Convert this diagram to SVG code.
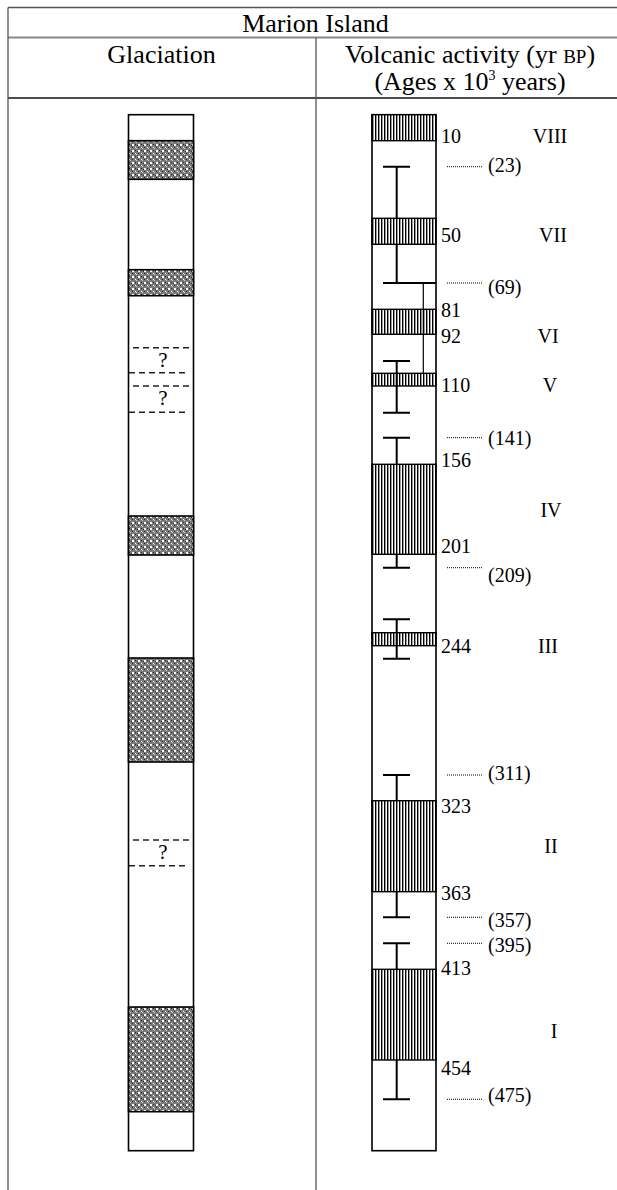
<svg xmlns="http://www.w3.org/2000/svg" width="617" height="1190" viewBox="0 0 617 1190">
<style>
text{font-family:"Liberation Serif","Times New Roman",serif;fill:#000}
.h{font-size:26px;text-anchor:middle}
.n{font-size:20px}
.r{font-size:20px;text-anchor:middle}
.q{font-size:21px;text-anchor:middle}
.tbl{stroke:#555;stroke-width:1.3;fill:none}
.box{fill:#fff;stroke:#000;stroke-width:1.6}
.ice{fill:url(#ice);stroke:#000;stroke-width:1.6}
.hat{fill:url(#hat);stroke:#000;stroke-width:1.4}
.eb{stroke:#000;stroke-width:2;fill:none}
.thin{stroke:#000;stroke-width:1.2;fill:none}
.dot{stroke:#000;stroke-width:1;stroke-dasharray:1 1;fill:none}
.dash{stroke:#222;stroke-width:1.6;stroke-dasharray:6 4;fill:none}
</style>
<defs>
<pattern id="ice" width="6" height="6" patternUnits="userSpaceOnUse">
<rect width="6" height="6" fill="#7a7a7a"/>
<rect x="0" y="0" width="2" height="2" fill="#fff"/>
<rect x="3" y="3" width="1" height="1" fill="#fff"/>
<rect x="3" y="0" width="1" height="1" fill="#222"/>
<rect x="0" y="3" width="1" height="1" fill="#222"/>
<rect x="4" y="4" width="1" height="1" fill="#ccc"/>
<rect x="5" y="1" width="1" height="1" fill="#333"/>
</pattern>
<pattern id="hat" width="3" height="10" patternUnits="userSpaceOnUse">
<rect width="3" height="10" fill="#fff"/>
<rect x="0" y="0" width="1.4" height="10" fill="#000"/>
</pattern>
</defs>
<g id="table">
<line class="tbl" x1="8" y1="7.5" x2="617" y2="7.5"/>
<line class="tbl" x1="8" y1="37.5" x2="617" y2="37.5" style="stroke:#888;stroke-width:2"/>
<line class="tbl" x1="8" y1="98" x2="617" y2="98" style="stroke:#111"/>
<line class="tbl" x1="8" y1="7.5" x2="8" y2="1190"/>
<line class="tbl" x1="316" y1="37.5" x2="316" y2="1190"/>
<text class="h" x="315.5" y="31.5">Marion Island</text>
<text class="h" x="161.5" y="63">Glaciation</text>
<text class="h" x="470" y="63">Volcanic activity (yr <tspan style="font-size:19px">BP</tspan>)</text>
<text class="h" x="470" y="90">(Ages x 10<tspan dy="-10" style="font-size:14px">3</tspan><tspan dy="10"> years)</tspan></text>
</g>
<g id="glaciation">
<rect class="box" x="128.5" y="114.7" width="65" height="1036"/>
<rect class="ice" x="128.5" y="140.7" width="65" height="38.6"/>
<rect class="ice" x="128.5" y="269.7" width="65" height="26"/>
<rect class="ice" x="128.5" y="516" width="65" height="39"/>
<rect class="ice" x="128.5" y="658" width="65" height="104"/>
<rect class="ice" x="128.5" y="1007" width="65" height="104.7"/>
<line class="dash" x1="133" y1="347.7" x2="193" y2="347.7"/>
<line class="dash" x1="129" y1="372.7" x2="189" y2="372.7"/>
<text class="q" x="163" y="366.5">?</text>
<line class="dash" x1="133" y1="386" x2="193" y2="386"/>
<line class="dash" x1="129" y1="412.3" x2="189" y2="412.3"/>
<text class="q" x="163" y="405">?</text>
<line class="dash" x1="133" y1="840" x2="193" y2="840"/>
<line class="dash" x1="129" y1="865.7" x2="189" y2="865.7"/>
<text class="q" x="163" y="859">?</text>
</g>
<g id="volcanic">
<rect class="box" x="372" y="114.7" width="64" height="1036"/>
<rect class="hat" x="372" y="114.7" width="64" height="26"/>
<rect class="hat" x="372" y="218.3" width="64" height="26"/>
<rect class="hat" x="372" y="309.3" width="64" height="25"/>
<rect class="hat" x="372" y="373.3" width="64" height="12.7"/>
<rect class="hat" x="372" y="464.3" width="64" height="90"/>
<rect class="hat" x="372" y="632.7" width="64" height="13"/>
<rect class="hat" x="372" y="800.7" width="64" height="91"/>
<rect class="hat" x="372" y="969.3" width="64" height="90.7"/>
</g>
<g id="connectors">
<path class="eb" d="M383 166.7H410M396.7 166.7V218.3"/>
<path class="eb" d="M396.7 244.3V283M383 283H436"/>
<path class="thin" d="M423.3 283V373.3"/>
<path class="eb" d="M383 361H410M396.7 361V412.7M383 412.7H410"/>
<path class="eb" d="M383 437.7H410M396.7 437.7V464.3"/>
<path class="eb" d="M396.7 554.3V567.7M383 567.7H410"/>
<path class="eb" d="M383 619.3H410M396.7 619.3V658.7M383 658.7H410"/>
<path class="eb" d="M383 775H410M396.7 775V800.7"/>
<path class="eb" d="M396.7 891.7V917.3M383 917.3H410"/>
<path class="eb" d="M383 943.3H410M396.7 943.3V969.3"/>
<path class="eb" d="M396.7 1060V1099.3M383 1099.3H410"/>
<path class="dot" d="M447 166.7H483M447 283H483M447 437.7H483M447 567.7H483M447 775H483M447 917.3H483M447 943.3H483M447 1099.3H483"/>
</g>
<g id="labels">
<text class="n" x="441" y="143">10</text>
<text class="n" x="441" y="241.7">50</text>
<text class="n" x="441" y="317">81</text>
<text class="n" x="441" y="342.7">92</text>
<text class="n" x="441" y="391.7">110</text>
<text class="n" x="441" y="466.5">156</text>
<text class="n" x="441" y="553.3">201</text>
<text class="n" x="441" y="652.7">244</text>
<text class="n" x="441" y="813">323</text>
<text class="n" x="441" y="900">363</text>
<text class="n" x="441" y="975">413</text>
<text class="n" x="441" y="1075">454</text>
<text class="n" x="488" y="171.7">(23)</text>
<text class="n" x="488" y="294">(69)</text>
<text class="n" x="488" y="445">(141)</text>
<text class="n" x="488" y="581.7">(209)</text>
<text class="n" x="488" y="780">(311)</text>
<text class="n" x="488" y="926.7">(357)</text>
<text class="n" x="488" y="951.7">(395)</text>
<text class="n" x="488" y="1101.7">(475)</text>
<text class="r" x="550" y="143">VIII</text>
<text class="r" x="553" y="241.7">VII</text>
<text class="r" x="548" y="342.7">VI</text>
<text class="r" x="550" y="391.7">V</text>
<text class="r" x="551" y="517">IV</text>
<text class="r" x="548" y="652.7">III</text>
<text class="r" x="551" y="853">II</text>
<text class="r" x="554" y="1038">I</text>
</g>
</svg>
